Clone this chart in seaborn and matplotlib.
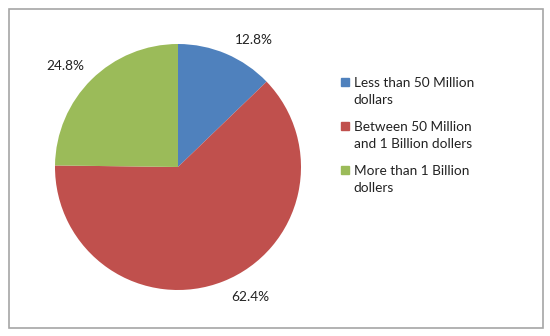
import matplotlib
matplotlib.use("Agg")
import numpy as np
import seaborn as sns
from matplotlib import pyplot as plt
from matplotlib.patches import Rectangle
from matplotlib.lines import Line2D
from matplotlib.legend_handler import HandlerLine2D

categories = ["Less than 50 Million\ndollars",
              "Between 50 Million\nand 1 Billion dollers",
              "More than 1 Billion\ndollers"]
shares = [12.8, 62.4, 24.8]
colors = ["#4F81BD", "#C0504D", "#9BBB59"]
# label spots in pie units (radius = 1), as Excel placed them
label_xy = [(0.62, 1.03), (0.59, -1.06), (-0.92, 0.82)]


class FirstLineHandler(HandlerLine2D):
    # Excel puts the legend key next to the first text line, not the middle
    def create_artists(self, legend, orig_handle, xdescent, ydescent,
                       width, height, fontsize, trans):
        artists = super().create_artists(legend, orig_handle, xdescent,
                                         ydescent, width, height, fontsize,
                                         trans)
        for a in artists:
            a.set_ydata(np.asarray(a.get_ydata()) + 0.68 * fontsize)
        return artists


sns.set_theme(style="white")
plt.rcParams["font.family"] = ["Lato", "DejaVu Sans"]

fig = plt.figure(figsize=(5.5, 3.36), dpi=100)
fig.patch.set_facecolor("white")

# outer chart border
fig.patches.append(Rectangle((9 / 550, 1 - 328 / 336), 534 / 550, 319 / 336,
                             transform=fig.transFigure, fill=False,
                             edgecolor="#a6a6a6", linewidth=1.2))

r = 123
ax = fig.add_axes([(178 - r) / 550, (336 - 167 - r) / 336, 2 * r / 550, 2 * r / 336])
wedges, texts, autotexts = ax.pie(shares, colors=colors, startangle=90,
                                  counterclock=False, autopct="%.1f%%",
                                  pctdistance=1.15,
                                  wedgeprops=dict(linewidth=0))
for t, (x, y) in zip(autotexts, label_xy):
    t.set_position((x, y))
    t.set_fontsize(9.8)
    t.set_color("#222222")
    t.set_ha("center")
    t.set_va("center")
ax.set_xlim(-1, 1)
ax.set_ylim(-1, 1)
ax.set_aspect("equal")
ax.axis("off")

handles = [Line2D([], [], marker="s", linestyle="", markersize=6,
                  markerfacecolor=c, markeredgecolor=c) for c in colors]
leg = fig.legend(handles, categories, loc="upper left",
                 bbox_to_anchor=(334 / 550, 1 - 70 / 336), frameon=False,
                 fontsize=9.8, handlelength=0.6, handletextpad=0.35,
                 labelspacing=1.1, borderpad=0,
                 handler_map={Line2D: FirstLineHandler()})
for t in leg.get_texts():
    t.set_linespacing(1.5)
    t.set_color("#222222")

fig.savefig("out.png", dpi=100, facecolor="white")
